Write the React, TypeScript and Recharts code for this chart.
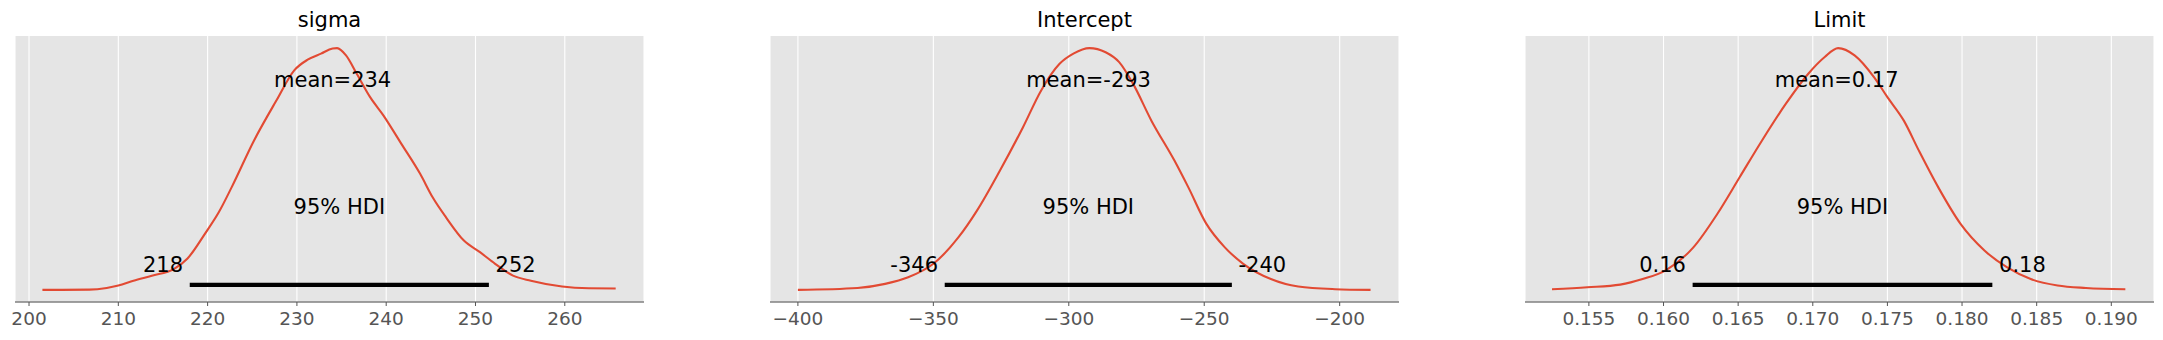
import React from "react";
import {
  LineChart,
  Line,
  XAxis,
  YAxis,
  CartesianGrid,
  ReferenceLine,
  ReferenceDot,
} from "recharts";

// ---------- data ----------
const titles = ["sigma", "Intercept", "Limit"];

const sigmaX = [201.5, 206.75, 208.7, 210.0, 211.7, 213.75, 216.25, 217.75, 219.75, 221.25, 222.7, 225.2, 227.7, 229.7, 231.2, 232.7, 234.0, 234.5, 235.5, 236.7, 238.2, 239.7, 241.7, 243.8, 245.2, 246.7, 248.7, 250.5, 252.2, 254.2, 256.2, 259.7, 262.7, 265.7];
const sigmaDensity = [0.0, 0.001, 0.008, 0.018, 0.038, 0.059, 0.087, 0.13, 0.235, 0.321, 0.425, 0.618, 0.783, 0.908, 0.952, 0.977, 0.998, 1.0, 0.97, 0.894, 0.797, 0.721, 0.604, 0.48, 0.383, 0.3, 0.204, 0.156, 0.108, 0.059, 0.038, 0.014, 0.007, 0.006];

const interceptX = [-400, -378, -367.8, -359.3, -350, -340.7, -333.9, -325.4, -316.9, -310.2, -303.4, -298.3, -292.4, -286.4, -281.4, -276.3, -269.5, -261, -255.9, -249.2, -242.4, -235.6, -225.4, -215.3, -201.7, -188.6];
const interceptDensity = [0.0, 0.008, 0.025, 0.052, 0.108, 0.218, 0.328, 0.494, 0.673, 0.825, 0.935, 0.977, 1.0, 0.983, 0.942, 0.853, 0.7, 0.535, 0.425, 0.273, 0.176, 0.108, 0.045, 0.014, 0.003, 0.0];

const limitX = [0.15253, 0.1549, 0.1571, 0.1586, 0.1602, 0.162, 0.1636, 0.1651, 0.1666, 0.1682, 0.1697, 0.1708, 0.1717, 0.1728, 0.1741, 0.175, 0.1761, 0.1771, 0.1784, 0.1799, 0.1815, 0.183, 0.1846, 0.1864, 0.1883, 0.19094];
const limitDensity = [0.003, 0.011, 0.022, 0.045, 0.083, 0.176, 0.314, 0.466, 0.618, 0.77, 0.894, 0.963, 1.0, 0.97, 0.88, 0.797, 0.7, 0.577, 0.425, 0.273, 0.163, 0.094, 0.045, 0.018, 0.008, 0.003];

const means = [234.0, -292.7, 0.1716];
const meanLabels = ["mean=234", "mean=-293", "mean=0.17"];
const hdiLow = [218.0, -345.8, 0.16195];
const hdiHigh = [251.5, -239.8, 0.18203];
const hdiLowLabels = ["218", "-346", "0.16"];
const hdiHighLabels = ["252", "-240", "0.18"];

const sigmaTicks = [200, 210, 220, 230, 240, 250, 260];
const interceptTicks = [-400, -350, -300, -250, -200];
const limitTicks = [0.155, 0.16, 0.165, 0.17, 0.175, 0.18, 0.185, 0.19];

const xDomains: [number, number][] = [
  [198.43, 268.87],
  [-410.3, -178.1],
  [0.15072, 0.19286],
];

// ---------- layout / style ----------
const FONT = "'DejaVu Sans', sans-serif";
const PLOT_W = 629;
const M_LEFT = 30;
const M_RIGHT = 41;
const CHART_W = PLOT_W + M_LEFT + M_RIGHT;
const CHART_H = 340;
const plotLefts = [15, 770, 1525];
const Y_TOP = 1.05;
const LABEL_SIZE = 21;
const SPACE = 0.318 * LABEL_SIZE;

const fmtMinus = (s: string) => s.replace("-", "\u2212");

type PanelProps = {
  idx: number;
  xs: number[];
  ds: number[];
  ticks: number[];
  tickFmt: (v: number) => string;
};

const Panel = ({ idx, xs, ds, ticks, tickFmt }: PanelProps) => {
  const data = xs.map((x, i) => ({ x, d: ds[i] }));
  const textStyle = {
    fontFamily: FONT,
    fontSize: LABEL_SIZE,
    fill: "#000",
  } as const;
  const mid = (hdiLow[idx] + hdiHigh[idx]) / 2;
  return (
    <div style={{ position: "absolute", left: plotLefts[idx] - M_LEFT, top: 0 }}>
      <div
        style={{
          position: "absolute",
          left: M_LEFT,
          width: PLOT_W,
          top: 7.5,
          textAlign: "center",
          fontFamily: FONT,
          fontSize: 21,
          lineHeight: "normal",
          color: "#000",
          whiteSpace: "nowrap",
        }}
      >
        {titles[idx]}
      </div>
      <LineChart
        width={CHART_W}
        height={CHART_H}
        data={data}
        margin={{ top: 36, right: M_RIGHT, bottom: 8, left: M_LEFT }}
      >
        <CartesianGrid
          horizontal={false}
          vertical={true}
          stroke="#ffffff"
          strokeWidth={1.1}
          fill="#E5E5E5"
          fillOpacity={1}
        />
        <XAxis
          type="number"
          dataKey="x"
          domain={xDomains[idx]}
          allowDataOverflow
          ticks={ticks}
          interval={0}
          height={30}
          tickSize={4}
          tickMargin={6}
          tickFormatter={tickFmt}
          tick={{ fontFamily: FONT, fontSize: 18.5, fill: "#555555" }}
          tickLine={{ stroke: "#555555", strokeWidth: 1 }}
          axisLine={{ stroke: "#808080", strokeWidth: 1.3 }}
        />
        <YAxis type="number" hide domain={[-0.05 * Y_TOP / 1.05, Y_TOP]} allowDataOverflow />
        <Line
          type="monotone"
          dataKey="d"
          stroke="#E24A33"
          strokeWidth={2.1}
          dot={false}
          activeDot={false}
          isAnimationActive={false}
        />
        <ReferenceLine
          segment={[
            { x: hdiLow[idx], y: 0.021 },
            { x: hdiHigh[idx], y: 0.021 },
          ]}
          stroke="#000"
          strokeWidth={4.2}
        />
        <ReferenceDot
          x={means[idx]}
          y={0.8 * Y_TOP}
          r={0}
          shape={(p: any) => (
            <text x={p.cx} y={p.cy} textAnchor="middle" style={textStyle}>
              {meanLabels[idx]}
            </text>
          )}
        />
        <ReferenceDot
          x={mid}
          y={0.3 * Y_TOP}
          r={0}
          shape={(p: any) => (
            <text x={p.cx} y={p.cy} textAnchor="middle" style={textStyle}>
              95% HDI
            </text>
          )}
        />
        <ReferenceDot
          x={hdiLow[idx]}
          y={0.07 * Y_TOP}
          r={0}
          shape={(p: any) => (
            <text x={p.cx - SPACE} y={p.cy} textAnchor="end" style={textStyle}>
              {hdiLowLabels[idx]}
            </text>
          )}
        />
        <ReferenceDot
          x={hdiHigh[idx]}
          y={0.07 * Y_TOP}
          r={0}
          shape={(p: any) => (
            <text x={p.cx + SPACE} y={p.cy} textAnchor="start" style={textStyle}>
              {hdiHighLabels[idx]}
            </text>
          )}
        />
      </LineChart>
    </div>
  );
}

export default function App() {
  return (
    <div
      style={{
        position: "absolute",
        left: 0,
        top: 0,
        width: 2163,
        height: 340,
        background: "#ffffff",
        overflow: "hidden",
      }}
    >
      <Panel idx={0} xs={sigmaX} ds={sigmaDensity} ticks={sigmaTicks} tickFmt={(v) => String(v)} />
      <Panel
        idx={1}
        xs={interceptX}
        ds={interceptDensity}
        ticks={interceptTicks}
        tickFmt={(v) => fmtMinus(String(v))}
      />
      <Panel idx={2} xs={limitX} ds={limitDensity} ticks={limitTicks} tickFmt={(v) => v.toFixed(3)} />
    </div>
  );
}
